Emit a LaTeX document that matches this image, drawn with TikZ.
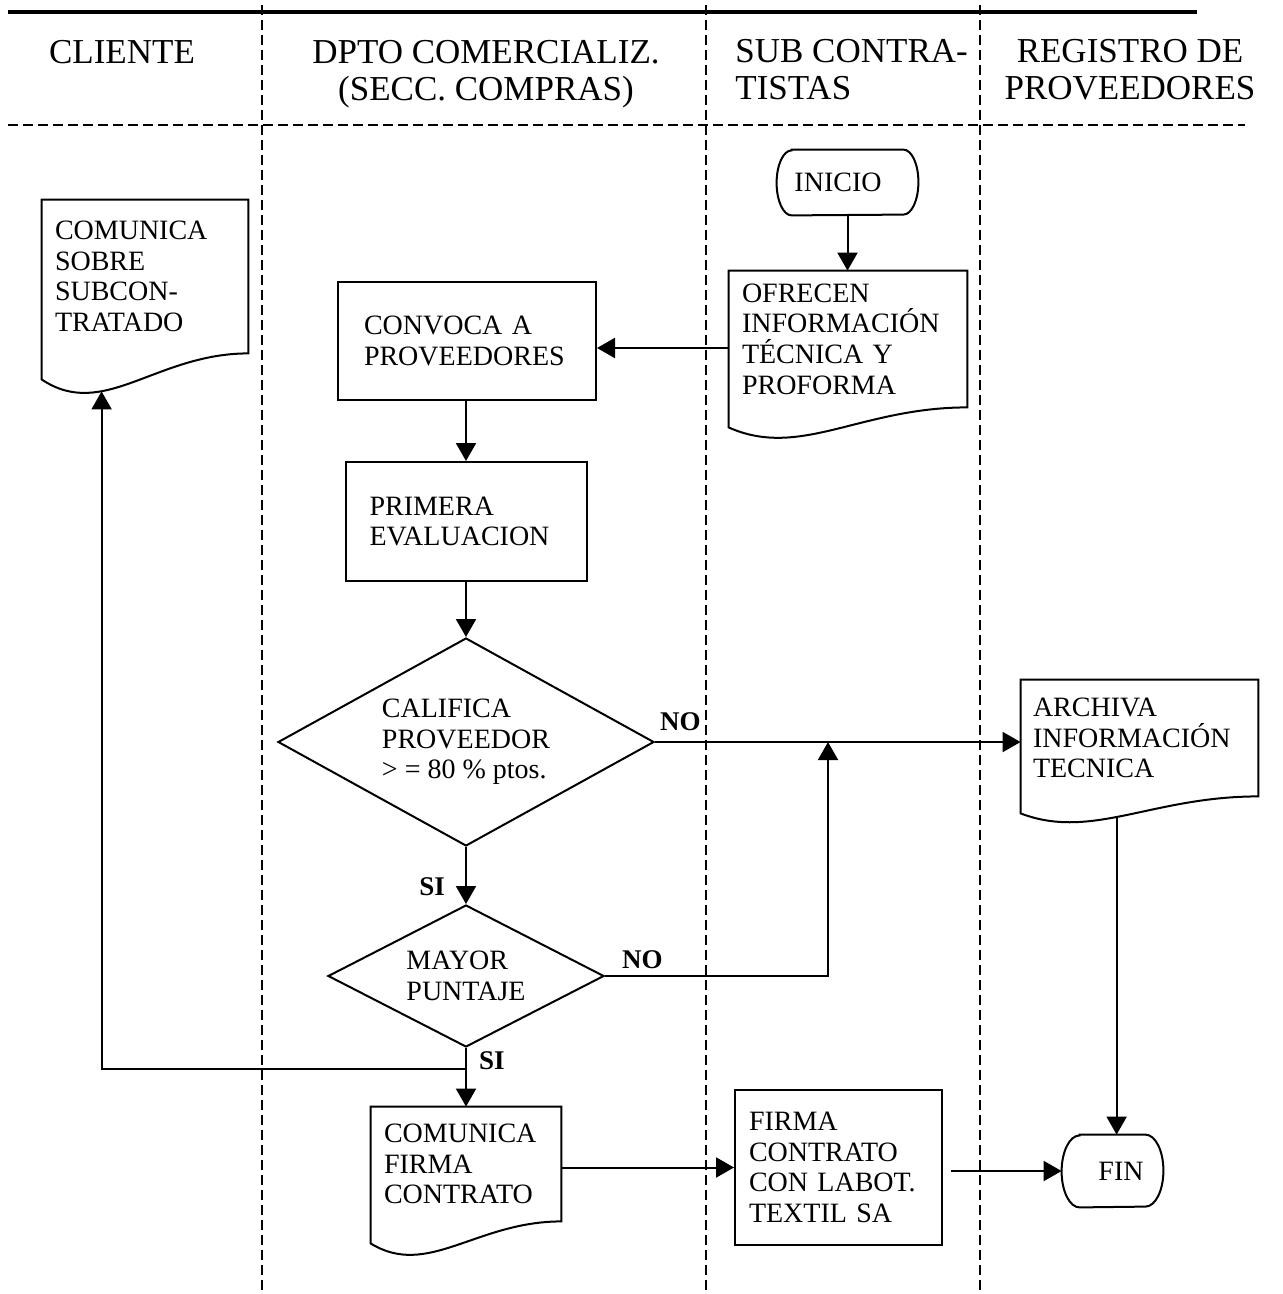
\documentclass[tikz,border=0pt]{standalone}
\usepackage{fontspec}
\setmainfont{Liberation Serif}
\usetikzlibrary{arrows.meta,shapes.geometric,calc}

% document symbol: straight top and sides, wavy bottom edge
% #1 node name, #2 width (px), #3 extra drop of the left corner (px)
\newcommand\docoutline[3]{%
  \draw[line] (#1.south east)
    .. controls +(-0.45*#2,0) and +(0.3*#2,1.6*#3) .. ($(#1.south west)+(0,#3)$)
    -- (#1.north west) -- (#1.north east) -- cycle;}

% terminal symbol: flat top and bottom, elliptic ends
% #1 node name, #2 end width, #3 half height
\newcommand\termoutline[3]{%
  \draw[line] ([xshift=#2]#1.north west) -- ([xshift=-#2]#1.north east)
    arc[start angle=90,end angle=-90,x radius=#2,y radius=#3]
    -- ([xshift=#2]#1.south west)
    arc[start angle=270,end angle=90,x radius=#2,y radius=#3] -- cycle;}

\begin{document}
\begin{tikzpicture}[x=0.5pt,y=-0.5pt,
  line/.style={line width=1pt},
  arr/.style={line width=1pt,-{Triangle[length=9pt,width=10pt]}},
  lane/.style={line width=1.1pt,dash pattern=on 5pt off 2.5pt},
  head/.style={font=\fontsize{17.5}{18.5}\selectfont,inner sep=0pt},
  body/.style={font=\fontsize{14}{15.3}\selectfont},
  boxed/.style={body,draw,line width=1pt,rectangle,align=left,inner ysep=0pt},
  docbox/.style={body,rectangle,align=left,inner ysep=0pt},
  decision/.style={body,draw,line width=1pt,diamond,inner sep=0pt,align=left},
  terminal/.style={body,rectangle,inner sep=0pt},
  lbl/.style={font=\fontsize{13.5}{14}\selectfont\bfseries,inner sep=1pt},
]
\useasboundingbox (0,0) rectangle (1282,1294);

% swimlane frame
\draw[line width=2pt] (8,12) -- (1197,12);
\draw[lane] (8,125) -- (1245,125);
\foreach \lx in {262,706,980} \draw[lane] (\lx,5) -- (\lx,1294);

% lane headings
\node[head] (hcli) at (122,52) {CLIENTE};
\node[head,align=center] (hdpt) at (486,73.7) {DPTO COMERCIALIZ.\\(SECC. COMPRAS)};
\node[head,align=left,anchor=west] (hsub) at (735,69.9) {SUB CONTRA-\\TISTAS};
\node[head,align=center] (hreg) at (1130,69.9) {REGISTRO DE\\PROVEEDORES};

% process symbols
\node[terminal,minimum width=70.5pt,minimum height=32.5pt] (ini) at (847.5,182.5) {INICIO\hspace*{9.5pt}};
\termoutline{ini}{7.5pt}{16.25pt}

\node[docbox,minimum width=119pt,minimum height=68pt,text width=106pt,inner xsep=6.5pt] (ofr) at (848,339)
  {OFRECEN\\INFORMACIÓN\\TÉCNICA Y\\PROFORMA};
\docoutline{ofr}{238}{20}

\node[docbox,minimum width=103pt,minimum height=76.5pt,text width=90pt,inner xsep=6.5pt] (csub) at (145,276.5)
  {COMUNICA\\SOBRE\\SUBCON-\\TRATADO};
\docoutline{csub}{206}{26}

\node[boxed,minimum width=129pt,minimum height=59pt,text width=103pt,inner xsep=13pt] (conv) at (467,341)
  {CONVOCA A\\PROVEEDORES};

\node[boxed,minimum width=120.5pt,minimum height=59.5pt,text width=96.5pt,inner xsep=12pt] (prim) at (466,521.5)
  {PRIMERA\\EVALUACION};

\node[decision,aspect=1.8,minimum width=188pt,minimum height=104pt] (cal) at (466,742)
  {CALIFICA\\PROVEEDOR\\> = 80 \% ptos.};

\node[decision,aspect=1.94,minimum width=138pt,minimum height=71pt] (may) at (466,976)
  {MAYOR\\PUNTAJE};

\node[docbox,minimum width=95pt,minimum height=57pt,text width=82pt,inner xsep=6.5pt] (cfirm) at (466,1164)
  {COMUNICA\\FIRMA\\CONTRATO};
\docoutline{cfirm}{190}{22}

\node[boxed,minimum width=103.5pt,minimum height=77.5pt,text width=89.5pt,inner xsep=7pt] (firm) at (838.5,1167.5)
  {FIRMA\\CONTRATO\\CON LABOT.\\TEXTIL SA};

\node[docbox,minimum width=118.5pt,minimum height=58pt,text width=106.5pt,inner xsep=6pt] (arch) at (1139.5,738)
  {ARCHIVA\\INFORMACIÓN\\TECNICA};
\docoutline{arch}{237}{17}

\node[terminal,minimum width=50.5pt,minimum height=36pt] (fin) at (1112.5,1171) {\hspace*{8.5pt}FIN};
\termoutline{fin}{9pt}{18pt}

% connectors
\draw[arr] (ini.south) -- (ini.south |- ofr.north);
\path (conv.east) ++(0,7) coordinate (cin);
\draw[arr] (cin -| ofr.west) -- (cin);
\draw[arr] (conv.south -| prim.north) -- (prim.north);
\draw[arr] (cal.north |- prim.south) -- (cal.north);
\draw[arr] (cal.east) node[lbl,anchor=south west,xshift=1pt,yshift=4pt] (no1) {NO} -- (cal.east -| arch.west);
\draw[arr] (cal.south) -- node[lbl,left=9pt,pos=0.7] (si1) {SI} (may.north);
\coordinate (jn) at (828,742);
\draw[arr] (may.east) node[lbl,anchor=south west,xshift=7pt,yshift=2pt] (no2) {NO} -| (jn);
\draw[arr] (may.south) -- node[lbl,right=5pt,pos=0.22] (si2) {SI} (may.south |- cfirm.north);
\path (may.south) ++(0,21) coordinate (br);
\coordinate (csubin) at ($(csub.south west)+(60,38)$);
\draw[arr] (br) -| (csubin);
\draw[arr] (firm.west -| cfirm.east) -- (firm.west);
\draw[arr,shorten <=4pt] (fin.west -| firm.east) -- (fin.west);
\coordinate (archout) at ($(arch.south west)+(96,21)$);
\draw[arr] (archout) -- (archout |- fin.north);
\end{tikzpicture}
\end{document}
